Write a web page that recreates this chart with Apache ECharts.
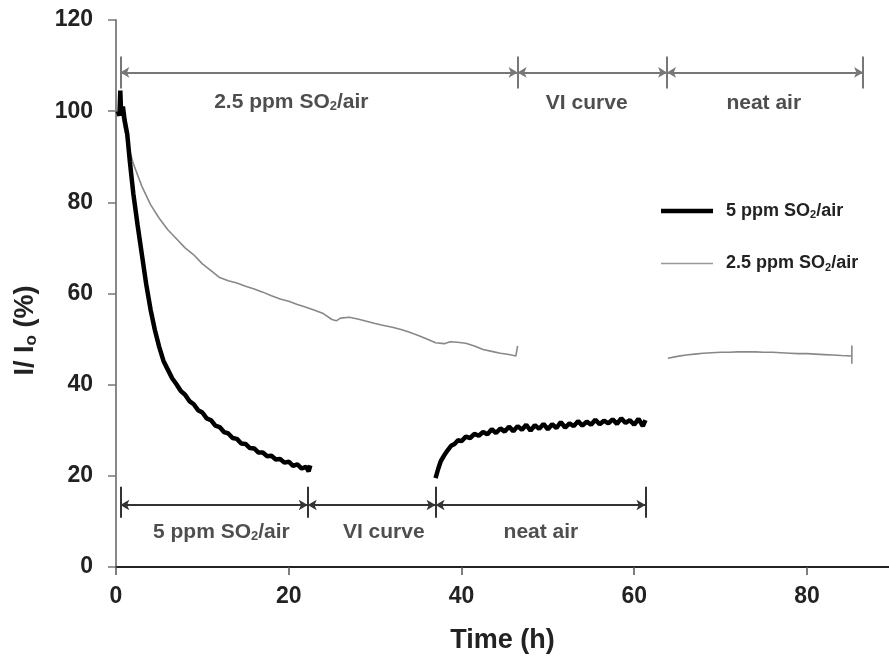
<!DOCTYPE html>
<html>
<head>
<meta charset="utf-8">
<script src="https://cdn.jsdelivr.net/npm/echarts@6/dist/echarts.min.js"></script>
<style>html,body{margin:0;padding:0;background:#fff}#c{width:889px;height:662px}</style>
</head>
<body>
<div id="c"></div>
<script>
// ---- Data (time in h, I/Io in %) ----
var xTicks = [0, 20, 40, 60, 80];
var yTicks = [0, 20, 40, 60, 80, 100, 120];

var so2_5_exposure = [[0.2,100],[0.4,99],[0.5,104.5],[0.6,99],[0.8,101],[1.0,98],[1.3,95],[1.6,89],[2.0,82],[2.5,75],[3.0,68.5],[3.5,62],[4.0,56.5],[4.5,52],[5.0,48.3],[5.5,45.2],[6.0,43.3],[6.5,41.4],[7.0,40.1],[7.5,38.6],[8.0,37.8],[8.5,36.4],[9.0,35.7],[9.5,34.4],[10.0,33.9],[10.5,32.6],[11.0,32.2],[11.5,31.0],[12.0,30.7],[12.5,29.6],[13.0,29.3],[13.5,28.3],[14.0,28.1],[14.5,27.1],[15.0,27.0],[15.5,26.1],[16.0,26.0],[16.5,25.1],[17.0,25.1],[17.5,24.3],[18.0,24.4],[18.5,23.6],[19.0,23.7],[19.5,22.9],[20.0,23.1],[20.5,22.2],[21.0,22.5],[21.5,21.6],[22.0,22.0],[22.3,21.0],[22.5,22.3]];
var so2_5_neatAir = [[37.0,19.5],[37.3,21.5],[37.6,23.2],[38.0,24.5],[38.4,25.6],[38.8,26.6],[39.2,27.0],[39.6,27.8],[40.0,27.6],[40.5,28.6],[41.0,28.3],[41.5,29.2],[42.0,28.8],[42.5,29.6],[43.0,29.1],[43.5,30.2],[44.0,29.4],[44.5,30.4],[45.0,29.7],[45.5,30.8],[46.0,29.8],[46.5,30.9],[47.0,30.1],[47.5,31.2],[48.0,29.9],[48.5,31.1],[49.0,30.3],[49.5,31.4],[50.0,30.2],[50.5,31.3],[51.0,30.5],[51.5,31.8],[52.0,30.6],[52.5,31.5],[53.0,30.9],[53.5,32.0],[54.0,31.0],[54.5,31.9],[55.0,31.2],[55.5,32.3],[56.0,31.3],[56.5,32.1],[57.0,31.5],[57.5,32.4],[58.0,31.4],[58.5,32.6],[59.0,31.6],[59.5,32.2],[60.0,31.2],[60.5,32.5],[61.0,30.9],[61.3,32.2]];
var so2_25_exposure = [[0.3,100],[0.5,101],[0.8,98],[1.0,96],[1.5,92],[2.0,88.5],[3.0,83.5],[4.0,79.5],[5.0,76.5],[6.0,74],[7.0,72],[8.0,70],[9.0,68.5],[10.0,66.5],[11.0,65],[12.0,63.5],[13.0,62.8],[14.0,62.3],[15.0,61.6],[16.0,61],[17.0,60.3],[18.0,59.5],[19.0,58.8],[20.0,58.3],[21.0,57.6],[22.0,57],[23.0,56.3],[24.0,55.6],[25.0,54.3],[25.5,54.0],[26.0,54.6],[27.0,54.8],[28.0,54.4],[29.0,53.9],[30.0,53.4],[31.0,53],[32.0,52.6],[33.0,52.1],[34.0,51.5],[35.0,50.8],[36.0,50.0],[37.0,49.2],[38.0,49.0],[38.7,49.4],[39.5,49.3],[40.5,49.1],[41.5,48.5],[42.5,47.7],[43.5,47.3],[44.5,46.9],[45.5,46.6],[46.3,46.3],[46.5,48.5]];
var so2_25_neatAir = [[63.9,45.8],[65,46.2],[66,46.5],[67,46.7],[68,46.9],[69,47.0],[70,47.1],[71,47.1],[72,47.2],[73,47.2],[74,47.2],[75,47.1],[76,47.1],[77,47.0],[78,46.9],[79,46.8],[80,46.8],[81,46.7],[82,46.6],[83,46.5],[84,46.4],[85.2,46.3],[85.2,48.6],[85.2,44.6]];

// Phase annotations: [start, end] in h
var topPhases = [[0.5,46.5],[46.5,63.8],[63.8,86.5]];
var topPhaseY = 108.5;
var topLabels = [[20.3,102,'2.5 ppm SO{sub|2}/air'],[54.5,101.7,'VI curve'],[75,101.7,'neat air']];
var bottomPhases = [[0.5,22.2],[22.2,37],[37,61.3]];
var bottomPhaseY = 13.6;
var bottomLabels = [[12.2,7.7,'5 ppm SO{sub|2}/air'],[31,7.7,'VI curve'],[49.2,7.7,'neat air']];
var seriesNames = ['5 ppm SO2/air', '2.5 ppm SO2/air'];

var FONT = 'Liberation Sans, Arial, sans-serif';

function phaseLines(phases, y, barLo, barHi) {
  var out = [];
  phases.forEach(function (p) {
    out.push([{coord:[p[0],y], symbol:'arrow'},{coord:[p[1],y], symbol:'arrow'}]);
  });
  var bars = [];
  phases.forEach(function (p, i) { if (i === 0) bars.push(p[0]); bars.push(p[1]); });
  bars.forEach(function (b) {
    out.push([{coord:[b,barLo], symbol:'none'},{coord:[b,barHi], symbol:'none'}]);
  });
  return out;
}

var subRich = {sub:{fontSize:13, fontWeight:'bold', fontFamily:FONT, color:'#222', padding:[9,0,0,0]}};

var chart = echarts.init(document.getElementById('c'));
chart.setOption({
  animation:false,
  backgroundColor:'#fff',
  grid:{left:116, right:0, top:20, bottom:95},
  legend:{
    data:[
      {name:seriesNames[0], icon:'path://M0,0L52,0L52,4.5L0,4.5Z', itemStyle:{color:'#000'}},
      {name:seriesNames[1], icon:'path://M0,0L52,0L52,1.6L0,1.6Z', itemStyle:{color:'#999'}}
    ],
    orient:'vertical', left:656, top:197, itemWidth:52, itemHeight:14, itemGap:34,
    formatter:function(n){ return n.replace('SO2','SO{sub|2}'); },
    textStyle:{fontFamily:FONT, fontWeight:'bold', fontSize:18, color:'#222', padding:[0,0,0,8],
      rich:{sub:{fontSize:11, fontWeight:'bold', fontFamily:FONT, color:'#222', padding:[8,0,0,0]}}}
  },
  xAxis:{
    type:'value', min:0, max:89.5, interval:20,
    name:'Time (h)', nameLocation:'middle', nameGap:60,
    nameTextStyle:{fontFamily:FONT, fontWeight:'bold', fontSize:27, color:'#222'},
    axisLine:{lineStyle:{color:'#222', width:2}},
    axisTick:{length:8, customValues:xTicks, lineStyle:{color:'#555', width:1.5}},
    axisLabel:{fontFamily:FONT, fontWeight:'bold', fontSize:23, color:'#222', margin:18, customValues:xTicks},
    splitLine:{show:false}
  },
  yAxis:{
    type:'value', min:0, max:120, interval:20,
    name:'I/ I{sub|o} (%)', nameLocation:'middle', nameGap:76, nameRotate:90,
    nameTextStyle:{fontFamily:FONT, fontWeight:'bold', fontSize:27, color:'#222', padding:[0,74,0,0],
      rich:{sub:{fontSize:17, fontWeight:'bold', fontFamily:FONT, color:'#222', padding:[12,0,0,0]}}},
    axisLine:{show:true, lineStyle:{color:'#888', width:2}},
    axisTick:{show:true, length:8, lineStyle:{color:'#777', width:1.5}},
    axisLabel:{fontFamily:FONT, fontWeight:'bold', fontSize:23, color:'#222', margin:23},
    splitLine:{show:false}
  },
  series:[
    {name:seriesNames[0], type:'line', data:so2_5_exposure, symbol:'none', lineStyle:{color:'#000', width:4.5}, itemStyle:{color:'#000'}, z:5},
    {name:seriesNames[0], type:'line', data:so2_5_neatAir, symbol:'none', lineStyle:{color:'#000', width:4.5}, itemStyle:{color:'#000'}, z:5},
    {name:seriesNames[1], type:'line', data:so2_25_exposure, symbol:'none', lineStyle:{color:'#888', width:1.6}, itemStyle:{color:'#888'}, z:4},
    {name:seriesNames[1], type:'line', data:so2_25_neatAir, symbol:'none', lineStyle:{color:'#888', width:1.6}, itemStyle:{color:'#888'}, z:4},
    {name:'topAnn', type:'scatter', symbolSize:0, silent:true,
      data:topLabels,
      label:{show:true, position:'inside', formatter:function(p){return p.data[2];},
        fontFamily:FONT, fontWeight:'bold', fontSize:21, color:'#222', rich:subRich},
      markLine:{silent:true, symbolSize:[8,9], label:{show:false},
        lineStyle:{color:'#777', width:2, type:'solid'}, itemStyle:{color:'#222'},
        data:phaseLines(topPhases, topPhaseY, 105, 112)}
    },
    {name:'bottomAnn', type:'scatter', symbolSize:0, silent:true,
      data:bottomLabels,
      label:{show:true, position:'inside', formatter:function(p){return p.data[2];},
        fontFamily:FONT, fontWeight:'bold', fontSize:21, color:'#222', rich:subRich},
      markLine:{silent:true, symbolSize:[8,9], label:{show:false},
        lineStyle:{color:'#333', width:2, type:'solid'}, itemStyle:{color:'#222'},
        data:phaseLines(bottomPhases, bottomPhaseY, 10.8, 17.6)}
    }
  ]
});
</script>
</body>
</html>
